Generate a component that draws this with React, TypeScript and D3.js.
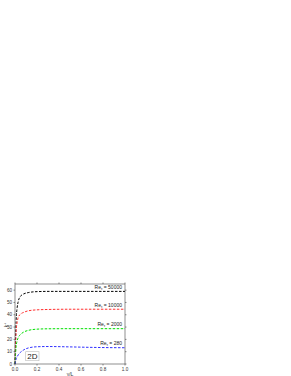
import React from "react";
import * as d3 from "d3";

const xValues = [0, 0.005, 0.01, 0.02, 0.03, 0.05, 0.08, 0.12, 0.2, 0.3, 0.5, 0.7, 1.0];
const k50000 = [0, 20, 35, 46, 51, 55, 57, 58, 58.8, 59, 59, 59, 59];
const k10000 = [0, 15, 26, 34, 38, 40.5, 42, 43.2, 44, 44.3, 44.5, 44.5, 44.5];
const k2000 = [0, 8, 14, 19, 21.5, 24, 26, 27.3, 28.3, 28.6, 28.7, 28.7, 28.7];
const k280 = [0, 2, 4, 6, 7.5, 9.5, 11.5, 13, 14, 14.2, 13.9, 13.5, 13.2];
const seriesNames = ["50000", "10000", "2000", "280"];
const xTicks = [0, 0.2, 0.4, 0.6, 0.8, 1.0];
const yTicks = [0, 10, 20, 30, 40, 50, 60];

const colors = ["#000000", "#ff3030", "#00e000", "#3030ff"];

export default function App() {
  const W = 291, H = 376;
  const x = d3.scaleLinear().domain([0, 1]).range([15, 125]);
  const y = d3.scaleLinear().domain([0, 65]).range([364, 284]);
  const series = [k50000, k10000, k2000, k280];
  const line = d3.line<number>().x((_, i) => x(xValues[i])).y((d) => y(d)).curve(d3.curveMonotoneX);
  const font = "Liberation Sans, Arial, sans-serif";
  const [x0, x1] = x.range();
  const [y0, y1] = y.range();
  return (
    <svg width={W} height={H} style={{ position: "absolute", left: 0, top: 0, background: "#fff" }} fontFamily={font}>
      <rect x={0} y={0} width={W} height={H} fill="#fff" />
      {series.map((s, i) => (
        <path key={i} d={line(s) || ""} fill="none" stroke={colors[i]} strokeWidth={1} strokeDasharray="2.5,1.5" />
      ))}
      {/* frame */}
      <rect x={x0} y={y1} width={x1 - x0} height={y0 - y1} fill="none" stroke="#444" strokeWidth={0.6} />
      {yTicks.map((t) => (
        <g key={"y" + t}>
          <line x1={x0 - 1.5} x2={x0} y1={y(t)} y2={y(t)} stroke="#444" strokeWidth={0.6} />
          <line x1={x1} x2={x1 + 1.5} y1={y(t)} y2={y(t)} stroke="#444" strokeWidth={0.6} />
          <text x={x0 - 3} y={y(t)} fontSize={4.6} textAnchor="end" dominantBaseline="central" fill="#333">{t}</text>
        </g>
      ))}
      {xTicks.map((t) => (
        <g key={"x" + t}>
          <line x1={x(t)} x2={x(t)} y1={y0} y2={y0 + 1.5} stroke="#444" strokeWidth={0.6} />
          <line x1={x(t)} x2={x(t)} y1={y1 - 1.5} y2={y1} stroke="#444" strokeWidth={0.6} />
          <text x={x(t)} y={y0 + 5} fontSize={4.6} textAnchor="middle" dominantBaseline="central" fill="#333">{t.toFixed(1)}</text>
        </g>
      ))}
      <text x={70} y={374} fontSize={5} textAnchor="middle" dominantBaseline="central" fill="#333">y/L</text>
      <text transform="translate(6,325) rotate(-90)" fontSize={5} textAnchor="middle" dominantBaseline="central" fill="#333">
        k<tspan dy={-1.5} fontSize={3.5}>+</tspan>
      </text>
      {series.map((s, i) => (
        <text key={"l" + i} x={122} y={y(s[s.length - 1]) - 2.5} fontSize={5} textAnchor="end" fill="#222">
          Re<tspan dy={1.2} fontSize={3.5}>τ</tspan><tspan dy={-1.2}> = {seriesNames[i]}</tspan>
        </text>
      ))}
      <rect x={25.7} y={351.7} width={13.3} height={9} fill="#fff" stroke="#bbb" strokeWidth={0.6} />
      <text x={32.4} y={356.4} fontSize={8} textAnchor="middle" dominantBaseline="central" fill="#222">2D</text>
    </svg>
  );
}
